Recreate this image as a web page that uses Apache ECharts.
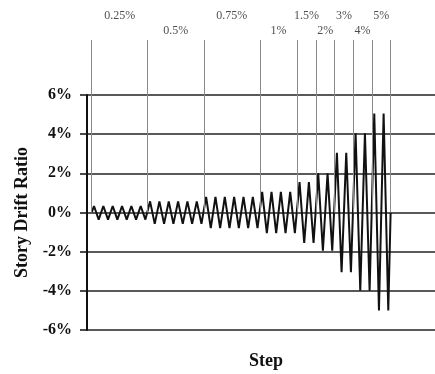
<!DOCTYPE html>
<html>
<head>
<meta charset="utf-8">
<script src="https://cdn.jsdelivr.net/npm/echarts@6/dist/echarts.min.js"></script>
<style>html,body{margin:0;padding:0;background:#fff;}#c{width:435px;height:374px;}</style>
</head>
<body>
<div id="c"></div>
<script>
// Loading protocol groups (target drift labels), cycles per group, read peak / trough values (%)
const groupLabels = ['0.25%', '0.5%', '0.75%', '1%', '1.5%', '2%', '3%', '4%', '5%'];
const groupCycles = [6, 6, 6, 4, 2, 2, 2, 2, 2];
const groupPeaks = [0.33, 0.57, 0.8, 1.05, 1.55, 2.0, 3.05, 4.05, 5.05];
const groupTroughs = [-0.36, -0.58, -0.8, -1.05, -1.55, -1.95, -3.05, -4.0, -5.0];
const yTicks = [-6, -4, -2, 0, 2, 4, 6];

// Build triangle-wave points (x in cycles)
const wave = [[0, 0]];
const boundaries = [0];
const centers = [];
let k = 0;
groupCycles.forEach((n, g) => {
  centers.push(k + n / 2);
  for (let i = 0; i < n; i++) {
    wave.push([k + 0.25, groupPeaks[g]]);
    wave.push([k + 0.75, groupTroughs[g]]);
    k += 1;
  }
  boundaries.push(k);
});
wave.push([k, 0]);

const SERIF = '"Liberation Serif", "Times New Roman", serif';
const chart = echarts.init(document.getElementById('c'), null, {renderer: 'canvas'});
chart.setOption({
  backgroundColor: '#fff',
  animation: false,
  grid: [
    {left: 87, right: 0, top: 95, bottom: 44, containLabel: false, outerBoundsMode: 'none'},
    {left: 87, right: 0, top: 0, height: 95, containLabel: false, outerBoundsMode: 'none'}
  ],
  xAxis: [
    {type: 'value', gridIndex: 0, min: -0.5, max: 36.75,
     axisLine: {show: false, onZero: false}, axisTick: {show: false}, axisLabel: {show: false}, splitLine: {show: false},
     name: 'Step', nameLocation: 'middle', nameGap: 22,
     nameTextStyle: {fontFamily: SERIF, fontWeight: 'bold', fontSize: 18, color: '#111', padding: [0, 0, 0, 10]}},
    {type: 'value', gridIndex: 1, min: -0.5, max: 36.75, show: false}
  ],
  yAxis: [
    {type: 'value', gridIndex: 0, min: yTicks[0], max: yTicks[yTicks.length - 1], interval: 2,
     axisLine: {show: true, onZero: false, lineStyle: {color: '#111', width: 2}},
     axisTick: {show: true, length: 7, lineStyle: {color: '#111', width: 1.5}},
     axisLabel: {formatter: v => v + '%', fontFamily: SERIF, fontWeight: 'bold', fontSize: 16, color: '#111', margin: 15},
     splitLine: {show: true, lineStyle: {color: '#222', width: 1.6}},
     name: 'Story Drift Ratio', nameLocation: 'middle', nameGap: 56,
     nameTextStyle: {fontFamily: SERIF, fontWeight: 'bold', fontSize: 18, color: '#111'}},
    {type: 'value', gridIndex: 1, min: 0, max: 95, show: false}
  ],
  series: [
    {type: 'line', xAxisIndex: 1, yAxisIndex: 1, data: [], z: 1, silent: true,
     markLine: {symbol: 'none', silent: true, label: {show: false},
       lineStyle: {color: '#8a8a8a', width: 1, type: 'solid'},
       data: boundaries.map(b => [{coord: [b, 0]}, {coord: [b, 55]}])}},
    {type: 'line', xAxisIndex: 0, yAxisIndex: 0, data: [], z: 1, silent: true,
     markLine: {symbol: 'none', silent: true, label: {show: false},
       lineStyle: {color: '#8a8a8a', width: 1, type: 'solid'},
       data: boundaries.map(b => [{coord: [b, 0]}, {coord: [b, 6]}])}},
    {type: 'scatter', xAxisIndex: 1, yAxisIndex: 1, symbolSize: 0, silent: true,
     data: groupLabels.map((l, i) => ({name: l, value: [centers[i], i % 2 === 0 ? 79 : 64]})),
     label: {show: true, position: 'inside', formatter: p => p.name,
       fontFamily: SERIF, fontSize: 12, color: '#222'}},
    {type: 'line', xAxisIndex: 0, yAxisIndex: 0, data: wave, symbol: 'none', z: 3,
     lineStyle: {color: '#111', width: 2}}
  ]
});
</script>
</body>
</html>
